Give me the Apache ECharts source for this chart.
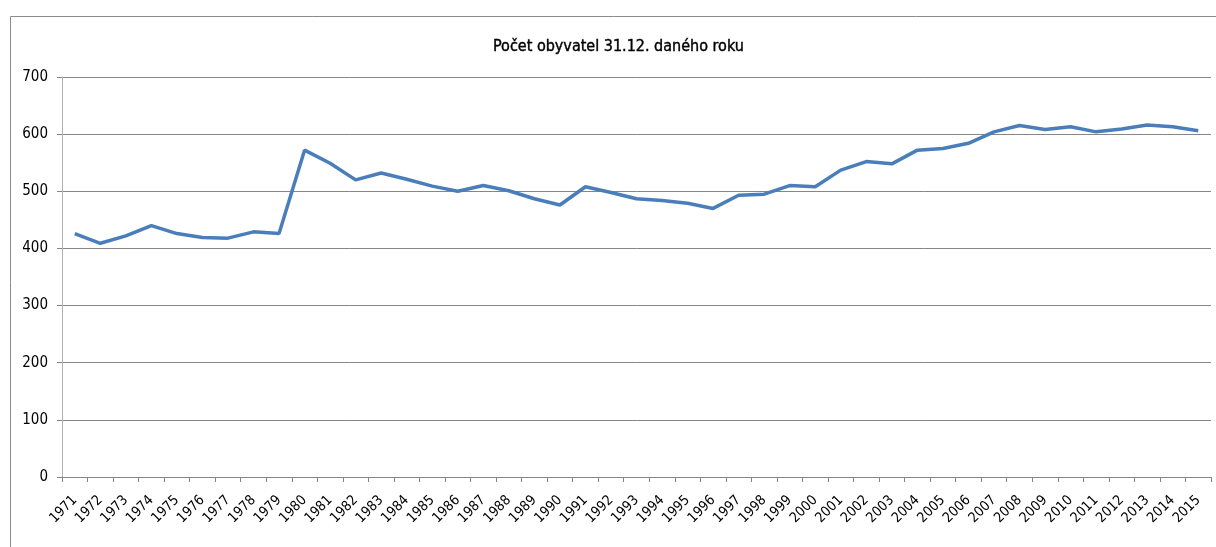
<!DOCTYPE html>
<html>
<head>
<meta charset="utf-8">
<script src="https://cdn.jsdelivr.net/npm/echarts@6/dist/echarts.min.js"></script>
<style>html,body{margin:0;padding:0;background:#fff}#c{width:1216px;height:547px}</style>
</head>
<body>
<div id="c"></div>
<script>
const titleText = 'Počet obyvatel 31.12. daného roku';
const years = ['1971','1972','1973','1974','1975','1976','1977','1978','1979','1980','1981','1982','1983','1984','1985','1986','1987','1988','1989','1990','1991','1992','1993','1994','1995','1996','1997','1998','1999','2000','2001','2002','2003','2004','2005','2006','2007','2008','2009','2010','2011','2012','2013','2014','2015'];
const population = [426,409,422,440,426,419,418,429,426,572,549,520,532,521,509,500,510,501,487,476,508,498,487,484,479,470,493,495,510,508,537,552,548,572,575,584,604,615,608,613,604,609,616,613,606];
const yTicks = [0,100,200,300,400,500,600,700];

const font = '"Liberation Sans Narrow", "DejaVu Sans Condensed", "Open Sans", sans-serif';
const chart = echarts.init(document.getElementById('c'), null, {renderer: 'canvas'});
chart.setOption({
  animation: false,
  backgroundColor: '#ffffff',
  title: {
    text: titleText, left: 488, top: 34,
    textStyle: {fontFamily: font, fontSize: 16, fontWeight: 'normal', color: '#000', textBorderColor: '#000', textBorderWidth: 0.4}
  },
  graphic: [{
    type: 'rect', silent: true,
    shape: {x: 10.5, y: 16.5, width: 1400, height: 700},
    style: {fill: 'none', stroke: '#8c8c8c', lineWidth: 1}
  }],
  grid: {left: 62, right: 5, top: 77, bottom: 70, containLabel: false},
  xAxis: {
    type: 'category', data: years, boundaryGap: true,
    axisLine: {lineStyle: {color: '#868686'}},
    axisTick: {show: true, length: 5, alignWithLabel: false, lineStyle: {color: '#868686'}},
    axisLabel: {rotate: 45, interval: 0, fontFamily: font, fontSize: 14, color: '#000', margin: 21}
  },
  yAxis: {
    type: 'value', min: yTicks[0], max: yTicks[yTicks.length-1], interval: 100,
    axisLine: {show: true, lineStyle: {color: '#b0b0b0'}},
    axisTick: {show: true, length: 5, lineStyle: {color: '#868686'}},
    axisLabel: {fontFamily: font, fontSize: 15, color: '#000', margin: 14},
    splitLine: {lineStyle: {color: '#868686'}}
  },
  series: [{
    type: 'line', data: population, showSymbol: false, symbol: 'none',
    lineStyle: {color: '#4a7ebb', width: 3.5},
    itemStyle: {color: '#4a7ebb'}
  }]
});
</script>
</body>
</html>
